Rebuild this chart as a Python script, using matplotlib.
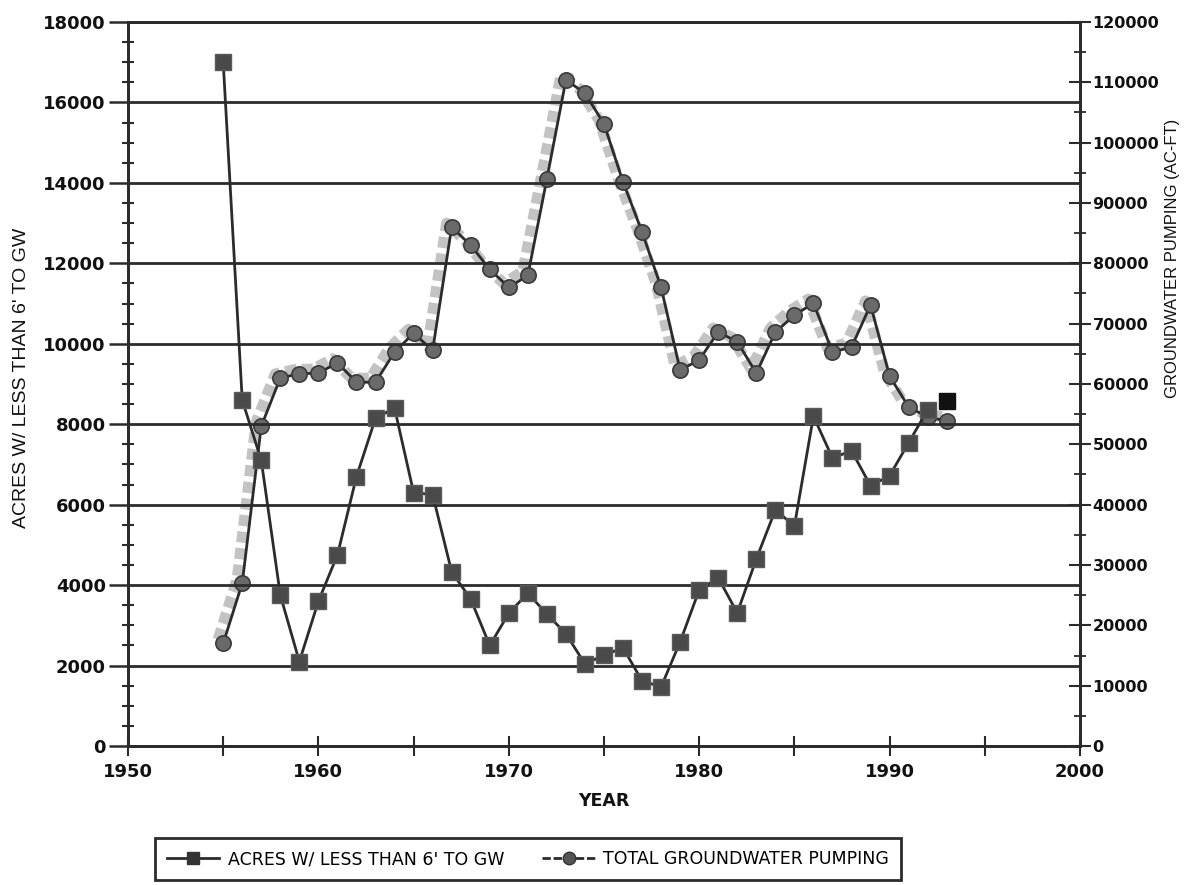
import matplotlib
matplotlib.use("Agg")
import matplotlib.pyplot as plt
import matplotlib.transforms as mtransforms
from matplotlib.ticker import MultipleLocator
from matplotlib.lines import Line2D

# ---------------- data ----------------
years = list(range(1955, 1994))
acres = [17000, 8600, 7100, 3750, 2100, 3600, 4750, 6700, 8150, 8400,
         6300, 6250, 4330, 3650, 2500, 3300, 3800, 3280, 2790, 2040,
         2260, 2440, 1620, 1470, 2590, 3880, 4180, 3310, 4650, 5870,
         5470, 8200, 7160, 7340, 6470, 6720, 7540, 8360, 8580]
pumping = [17000, 27000, 53000, 61000, 61700, 61800, 63500, 60300, 60300, 65300,
           68400, 65600, 86000, 83000, 79000, 76000, 78000, 94000, 110400, 108200,
           103100, 93500, 85200, 76000, 62300, 64000, 68600, 67000, 61800, 68600,
           71400, 73400, 65300, 66100, 73100, 61300, 56200, 54500, 53900]

left_ticks = list(range(0, 18001, 2000))
right_ticks = list(range(0, 120001, 10000))
x_ticks = [1950, 1960, 1970, 1980, 1990, 2000]

label_acres = "ACRES W/ LESS THAN 6' TO GW"
label_pump = "TOTAL GROUNDWATER PUMPING"
ylabel_left = "ACRES W/ LESS THAN 6' TO GW"
ylabel_right = "GROUNDWATER PUMPING (AC-FT)"
xlabel = "YEAR"

# ---------------- style ----------------
W, H = 1203, 885
fig = plt.figure(figsize=(W / 100, H / 100), dpi=100)
fig.patch.set_facecolor("white")

L, R, B, T = 128 / W, 1080 / W, 1 - 746 / H, 1 - 22 / H
ax = fig.add_axes([L, B, R - L, T - B])
ax2 = ax.twinx()

dark = "#2b2b2b"
tickfont = dict(family="DejaVu Sans", weight="bold", size=13)

ax.set_xlim(1950, 2000)
ax.set_ylim(0, 18000)
ax2.set_ylim(0, 120000)

# gridlines at left major ticks
for v in left_ticks:
    ax.axhline(v, color=dark, lw=2.0, zorder=1)

# ghost halo of the pumping series (scan artifact look)
offset = mtransforms.offset_copy(ax2.transData, fig=fig, x=-5, y=4, units="dots")
ax2.plot(years, pumping, color="#7a7a7a", lw=8, ls=(0, (1, 0.5)), alpha=0.45,
         transform=offset, zorder=2)

# pumping series (right axis)
ax2.plot(years, pumping, color=dark, lw=2.0, marker="o", ms=11,
         markerfacecolor="#6a6a6a", markeredgecolor="#3a3a3a", markeredgewidth=1.2,
         zorder=4)

# acres series (left axis)
ax.plot(years[:-1], acres[:-1], color=dark, lw=2.0, marker="s", ms=11,
        markerfacecolor="#4a4a4a", markeredgecolor="#5a5a5a", markeredgewidth=1,
        zorder=5)
ax.plot(years[-1:], acres[-1:], ls="none", marker="s", ms=11,
        markerfacecolor="#111111", markeredgecolor="#111111", zorder=5)

ax.set_zorder(ax2.get_zorder() + 1)
ax.patch.set_visible(False)

# ticks
ax.set_yticks(left_ticks)
ax.yaxis.set_minor_locator(MultipleLocator(500))
ax.set_xticks(x_ticks)
ax.xaxis.set_minor_locator(MultipleLocator(5))
ax2.set_yticks(right_ticks)
ax2.yaxis.set_minor_locator(MultipleLocator(5000))

ax.tick_params(axis="y", which="major", direction="out", length=14, width=1.8, color=dark, pad=2)
ax.tick_params(axis="y", which="minor", direction="inout", length=8, width=1.5, color=dark)
ax.tick_params(axis="x", which="both", direction="inout", length=14, width=1.5, color=dark, pad=5)
ax2.tick_params(axis="y", which="major", direction="inout", length=16, width=1.5, color=dark, pad=1)
ax2.tick_params(axis="y", which="minor", direction="inout", length=8, width=1.3, color=dark)

for lab in ax.get_yticklabels() + ax.get_xticklabels() + ax2.get_yticklabels():
    lab.set_fontfamily(tickfont["family"])
    lab.set_fontweight(tickfont["weight"])
    lab.set_fontsize(tickfont["size"])
    lab.set_color("#111111")
for lab in ax2.get_yticklabels():
    lab.set_fontsize(11.5)

for a in (ax, ax2):
    for s in a.spines.values():
        s.set_color(dark)
        s.set_linewidth(2)

ax.set_xlabel(xlabel, fontfamily="DejaVu Sans", fontweight="bold", fontsize=12.5,
              labelpad=8, color="#111111")
fig.text(22 / W, 1 - 378 / H, ylabel_left, rotation=90, ha="center", va="center",
         fontfamily="Liberation Sans", fontsize=14, color="#111111")
fig.text(1172 / W, 1 - 258 / H, ylabel_right, rotation=90, ha="center", va="center",
         fontfamily="Liberation Sans", fontsize=12, color="#111111")

# legend
h1 = Line2D([], [], color=dark, lw=2, marker="s", ms=9, markerfacecolor="#333333",
            markeredgecolor="#333333")
h2 = Line2D([], [], color=dark, lw=2, ls=(0, (3, 1)), marker="o", ms=9,
            markerfacecolor="#555555", markeredgecolor="#333333")
leg = fig.legend([h1, h2], [label_acres, label_pump], loc="upper left",
                 bbox_to_anchor=(155 / W, 1 - 838 / H), ncol=2, frameon=True,
                 fancybox=False, edgecolor=dark, framealpha=1,
                 prop=dict(family="DejaVu Sans", size=12.5),
                 handlelength=3.0, handletextpad=0.5, columnspacing=2.2,
                 borderpad=0.7, borderaxespad=0)
leg.get_frame().set_linewidth(2)

fig.savefig("out.png", dpi=100, facecolor="white")
